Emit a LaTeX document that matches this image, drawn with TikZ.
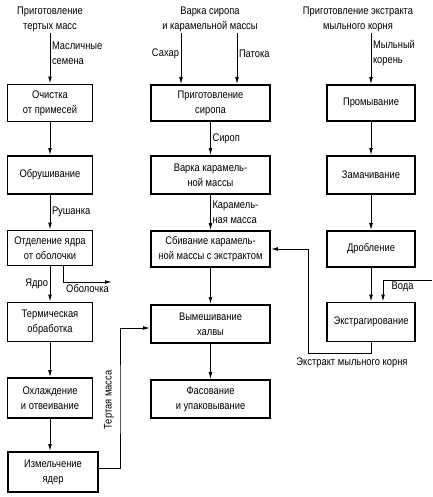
\documentclass[tikz,border=0pt]{standalone}
\usepackage{fontspec}
\setmainfont{Liberation Sans}[FakeStretch=0.85]
\usepackage{tikz}
\usetikzlibrary{arrows.meta,positioning,calc}
\tikzset{
  blok/.style={draw,line width=1.6pt,align=center,inner sep=2pt,minimum height=37pt},
  lev/.style={blok,minimum width=85pt},
  sred/.style={blok,minimum width=119pt},
  prav/.style={blok,minimum width=88pt},
  strel/.style={line width=1pt,-{Latex[length=7pt,width=3.8pt]}},
  podp/.style={align=left,inner sep=1.5pt},
  zag/.style={align=center,inner sep=1pt},
}

\begin{document}
\begin{tikzpicture}[x=1pt,y=-1pt,font=\fontsize{11}{15}\selectfont]
  \useasboundingbox (0,0) rectangle (432,497);
  \node[zag] (z1) at (50,19) {Приготовление\\тертых масс};
  \node[zag] (z2) at (210,19) {Варка сиропа\\и карамельной массы};
  \node[zag] (z3) at (358,19) {Приготовление экстракта\\мыльного корня};

  \node[lev] (och) at (50,103) {Очистка\\от примесей};
  \node[lev,minimum height=38pt] (obr) at (50,175) {Обрушивание};
  \node[lev,minimum height=35pt] (otd) at (50,248) {Отделение ядра\\от оболочки};
  \node[lev,minimum height=39pt] (term) at (50,322) {Термическая\\обработка};
  \node[lev,minimum height=40pt] (ohl) at (50,398) {Охлаждение\\и отвеивание};
  \node[lev,minimum width=90pt,minimum height=40pt] (izm) at (53,472) {Измельчение\\ядер};

  \node[sred,minimum height=36pt] (sir) at (210.5,103) {Приготовление\\сиропа};
  \node[sred,minimum height=38pt] (var) at (210.5,175) {Варка карамель-\\ной массы};
  \node[sred,minimum height=36pt] (sbiv) at (210.5,249) {Сбивание карамель-\\ной массы с экстрактом};
  \node[sred,minimum height=38pt] (vym) at (210.5,324) {Вымешивание\\халвы};
  \node[sred,minimum height=38pt] (fas) at (210.5,399) {Фасование\\и упаковывание};

  \node[prav,minimum height=36pt] (prom) at (371,103) {Промывание};
  \node[prav,minimum height=38pt] (zam) at (371,175) {Замачивание};
  \node[prav,minimum height=36pt] (drob) at (371,249) {Дробление};
  \node[prav,minimum height=39pt] (ekstr) at (371,322) {Экстрагирование};

  \draw[strel] (z1.south) -- node[podp,right,pos=0.4] (lmas) {Масличные\\семена} (och.north);
  \draw[strel] (och) -- (obr);
  \draw[strel] (obr) -- node[podp,right] (lrus) {Рушанка} (otd);
  \draw[strel] (otd) -- node[podp,left] (lyad) {Ядро} (term);
  \coordinate (obol) at (112,282);
  \draw[strel] ([xshift=13pt]otd.south) |- node[podp,below,pos=0.75] (lobol) {Оболочка} (obol);
  \draw[strel] (term) -- (ohl);
  \draw[strel] (ohl) -- (ohl.south |- izm.north);
  \coordinate (tm) at (120,400);
  \draw[strel] ([yshift=4pt]izm.east) -| (tm) |- ([yshift=-4pt]vym.west);
  \node[podp,rotate=90] (ltm) at (109,400) {Тертая масса};

  \coordinate (sah) at (181,33);
  \coordinate (pat) at (237,33);
  \draw[strel] (sah) -- node[podp,left,pos=0.4] (lsah) {Сахар} (sah |- sir.north);
  \draw[strel] (pat) -- node[podp,right,pos=0.4] (lpat) {Патока} (pat |- sir.north);
  \draw[strel] (sir) -- node[podp,right] (lsir) {Сироп} (var);
  \draw[strel] (var) -- node[podp,right] (lkar) {Карамель-\\ная масса} (sbiv);
  \draw[strel] (sbiv) -- (vym);
  \draw[strel] (vym) -- (fas);

  \draw[strel] (prom.north |- z3.south) -- node[podp,right,pos=0.4] (lkor) {Мыльный\\корень} (prom.north);
  \draw[strel] (prom) -- (zam);
  \draw[strel] (zam) -- (drob);
  \draw[strel] (drob) -- (ekstr);
  \coordinate (voda) at (432,280);
  \draw[strel] (voda) -| node[podp,below,pos=0.3] (lvod) {Вода} ([xshift=12pt]ekstr.north);
  \coordinate (ug) at (308,353);
  \draw[strel] (ekstr.south) |- (ug) |- (sbiv.east);
  \node[podp,anchor=north] (lek) at (352,356) {Экстракт мыльного корня};
\end{tikzpicture}
\end{document}
